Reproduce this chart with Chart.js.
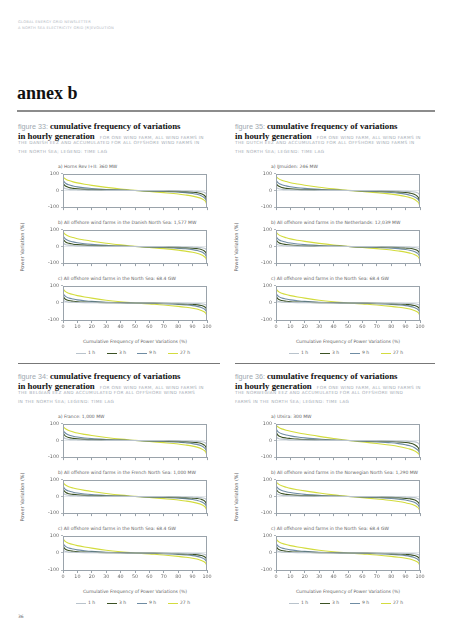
<!DOCTYPE html>
<html>
<head>
<meta charset="utf-8">
<script src="https://cdn.jsdelivr.net/npm/chart.js@4.4.1/dist/chart.umd.min.js"></script>
<style>
  html, body { margin: 0; padding: 0; background: #fff; }
  #page { position: relative; width: 453px; height: 640px; overflow: hidden; font-family: "DejaVu Sans", sans-serif; }
  .t { position: absolute; white-space: nowrap; line-height: 1; transform: translateY(-50%); }
  .hdr { font-size: 3.6px; letter-spacing: 0.25px; color: #b3b9bf; }
  .annex { font-family: "Liberation Serif", serif; font-weight: bold; font-size: 18px; color: #111; }
  .fignum { font-family: "Liberation Sans", sans-serif; font-size: 7.2px; color: #9ea7b0; }
  .bold { font-family: "Liberation Serif", serif; font-weight: bold; font-size: 8.8px; color: #111; }
  .caps { font-size: 4.3px; letter-spacing: 0.35px; color: #a7aeb6; }
  .sub { font-size: 4.5px; color: #666; }
  .ytitle { position: absolute; white-space: nowrap; font-size: 5px; color: #666; line-height: 1; transform: translate(-50%, -50%) rotate(-90deg); }
  .rule { position: absolute; }
</style>
</head>
<body>
<div id="page"></div>
<script>
// x values: cumulative frequency of power variations (%)
const cumFreq = [0, 1, 2, 4, 7, 10, 15, 20, 30, 40, 50, 60, 70, 80, 85, 90, 93, 96, 98, 99, 100];
const xTickValues = [0, 10, 20, 30, 40, 50, 60, 70, 80, 90, 100];
const yTickValues = [-100, -50, 0, 50, 100];
const lagLabels = ["1 h", "3 h", "9 h", "27 h"];
const lagColors = ["#b9c3cc", "#3b5224", "#6f8ca3", "#d3dc3e"];

// a) Horns Rev I+II: 360 MW
const hornsRev_1h  = [25, 14, 10, 7, 5, 4, 3, 2, 1, 0, 0, 0, -1, -2, -3, -4, -5, -7, -11, -16, -28];
const hornsRev_3h  = [45, 32, 25, 18, 13, 10, 7, 5, 3, 1, 0, -1, -3, -5, -7, -10, -13, -19, -28, -38, -60];
const hornsRev_9h  = [62, 50, 42, 34, 27, 22, 16, 12, 6, 2, 0, -3, -6, -10, -13, -18, -23, -31, -42, -52, -72];
const hornsRev_27h = [82, 74, 68, 60, 52, 46, 38, 31, 19, 9, 1, -6, -13, -21, -27, -34, -40, -48, -58, -66, -88];

// b) Danish North Sea: 1,577 MW
const danish_1h  = [26, 15, 11, 8, 6, 4, 3, 2, 1, 0, 0, 0, -1, -2, -3, -4, -5, -7, -10, -14, -26];
const danish_3h  = [47, 34, 26, 19, 14, 11, 8, 6, 3, 1, 0, -1, -3, -5, -7, -10, -13, -18, -26, -34, -52];
const danish_9h  = [65, 52, 44, 35, 28, 23, 17, 13, 7, 2, 0, -3, -6, -11, -14, -19, -24, -32, -42, -51, -70];
const danish_27h = [88, 78, 71, 62, 54, 47, 39, 32, 20, 10, 1, -6, -13, -22, -28, -35, -41, -50, -60, -68, -88];

// a) IJmuiden: 246 MW
const ijmuiden_1h  = [24, 14, 10, 7, 5, 4, 3, 2, 1, 0, 0, 0, -1, -2, -3, -5, -6, -9, -13, -18, -30];
const ijmuiden_3h  = [46, 32, 25, 18, 13, 10, 7, 5, 3, 1, 0, -1, -3, -6, -8, -12, -16, -23, -34, -45, -68];
const ijmuiden_9h  = [63, 51, 43, 35, 28, 23, 17, 13, 7, 2, 0, -3, -7, -12, -16, -22, -28, -37, -48, -57, -80];
const ijmuiden_27h = [84, 76, 70, 62, 54, 47, 39, 32, 20, 10, 1, -6, -13, -22, -28, -36, -43, -53, -65, -74, -95];

// b) Netherlands: 12,039 MW
const dutch_1h  = [22, 12, 9, 6, 4, 3, 2, 2, 1, 0, 0, 0, -1, -2, -2, -3, -4, -6, -9, -12, -22];
const dutch_3h  = [44, 30, 23, 16, 12, 9, 6, 4, 2, 1, 0, -1, -2, -4, -6, -9, -11, -16, -23, -30, -47];
const dutch_9h  = [62, 49, 41, 33, 26, 21, 15, 11, 6, 2, 0, -3, -6, -10, -13, -18, -23, -30, -39, -47, -65];
const dutch_27h = [86, 77, 70, 61, 53, 46, 38, 31, 19, 9, 1, -6, -13, -21, -27, -34, -40, -48, -57, -65, -84];

// a) France: 1,000 MW
const france_1h  = [26, 15, 10, 7, 5, 4, 3, 2, 1, 0, 0, 0, -1, -2, -3, -4, -5, -7, -10, -15, -27];
const france_3h  = [48, 33, 25, 18, 13, 10, 7, 5, 3, 1, 0, -1, -3, -5, -7, -10, -13, -18, -27, -36, -58];
const france_9h  = [64, 50, 42, 33, 26, 21, 15, 11, 6, 2, 0, -3, -6, -10, -14, -19, -24, -32, -43, -52, -72];
const france_27h = [86, 76, 69, 60, 52, 45, 37, 30, 18, 8, 1, -6, -13, -21, -27, -34, -40, -49, -59, -68, -88];

// b) French North Sea: 1,000 MW
const french_1h  = [25, 14, 10, 7, 5, 4, 3, 2, 1, 0, 0, 0, -1, -2, -3, -4, -5, -7, -10, -14, -26];
const french_3h  = [46, 32, 24, 17, 13, 10, 7, 5, 3, 1, 0, -1, -3, -5, -7, -10, -12, -17, -25, -34, -55];
const french_9h  = [63, 49, 41, 33, 26, 21, 15, 11, 6, 2, 0, -3, -6, -10, -13, -18, -23, -31, -41, -50, -70];
const french_27h = [85, 75, 68, 59, 51, 45, 37, 30, 18, 8, 1, -6, -13, -21, -27, -34, -40, -48, -58, -67, -86];

// a) Utsira: 300 MW
const utsira_1h  = [28, 15, 11, 8, 6, 4, 3, 2, 1, 0, 0, 0, -1, -2, -3, -4, -6, -8, -12, -18, -32];
const utsira_3h  = [52, 35, 27, 20, 15, 12, 8, 6, 3, 1, 0, -1, -3, -6, -8, -12, -16, -24, -36, -47, -70];
const utsira_9h  = [70, 57, 49, 40, 33, 28, 21, 16, 9, 3, 0, -4, -8, -14, -19, -26, -32, -42, -54, -63, -82];
const utsira_27h = [92, 84, 78, 70, 62, 56, 47, 39, 25, 12, 1, -9, -18, -29, -36, -45, -52, -62, -72, -79, -95];

// b) Norwegian North Sea: 1,290 MW
const norway_1h  = [25, 14, 10, 7, 5, 4, 3, 2, 1, 0, 0, 0, -1, -2, -3, -4, -5, -7, -11, -15, -26];
const norway_3h  = [48, 33, 25, 18, 13, 10, 7, 5, 3, 1, 0, -1, -3, -5, -7, -11, -14, -20, -29, -38, -56];
const norway_9h  = [66, 53, 45, 36, 29, 24, 18, 13, 7, 2, 0, -3, -7, -12, -16, -21, -27, -35, -46, -55, -74];
const norway_27h = [88, 80, 73, 64, 56, 49, 41, 34, 21, 10, 1, -7, -15, -24, -30, -38, -44, -53, -63, -71, -88];

// c) All offshore wind farms in the North Sea: 68.4 GW (same in every figure)
const northSea_1h  = [20, 11, 8, 5, 4, 3, 2, 2, 1, 0, 0, 0, -1, -1, -2, -3, -4, -5, -8, -11, -19];
const northSea_3h  = [40, 27, 20, 14, 10, 7, 5, 4, 2, 1, 0, -1, -2, -4, -6, -8, -10, -15, -21, -27, -38];
const northSea_9h  = [57, 44, 37, 29, 23, 18, 13, 9, 4, 1, 0, -2, -5, -9, -12, -16, -20, -27, -35, -42, -56];
const northSea_27h = [84, 72, 65, 57, 49, 43, 35, 28, 16, 7, 0, -6, -12, -20, -25, -31, -36, -44, -52, -59, -76];

const ncTitle = "c) All offshore wind farms in the North Sea: 68.4 GW";
const figures = [
  { num: 33, col: 0, block: 0,
    caps: ["FOR ONE WIND FARM,  ALL WIND FARMS IN", "THE DANISH EEZ AND ACCUMULATED FOR ALL OFFSHORE WIND FARMS IN", "THE NORTH SEA; LEGEND: TIME LAG"],
    panels: [["a) Horns Rev I+II: 360 MW", [hornsRev_1h, hornsRev_3h, hornsRev_9h, hornsRev_27h]],
             ["b) All offshore wind farms in the Danish North Sea: 1,577 MW", [danish_1h, danish_3h, danish_9h, danish_27h]],
             [ncTitle, [northSea_1h, northSea_3h, northSea_9h, northSea_27h]]] },
  { num: 35, col: 1, block: 0,
    caps: ["FOR ONE WIND FARM,  ALL WIND FARMS IN", "THE DUTCH EEZ AND ACCUMULATED FOR ALL OFFSHORE WIND FARMS IN", "THE NORTH SEA; LEGEND: TIME LAG"],
    panels: [["a) IJmuiden: 246 MW", [ijmuiden_1h, ijmuiden_3h, ijmuiden_9h, ijmuiden_27h]],
             ["b) All offshore wind farms in the Netherlands: 12,039 MW", [dutch_1h, dutch_3h, dutch_9h, dutch_27h]],
             [ncTitle, [northSea_1h, northSea_3h, northSea_9h, northSea_27h]]] },
  { num: 34, col: 0, block: 1,
    caps: ["FOR ONE WIND FARM, ALL WIND FARMS IN", "THE BELGIAN EEZ AND ACCUMULATED FOR ALL OFFSHORE WIND FARMS", "IN THE NORTH SEA; LEGEND: TIME LAG"],
    panels: [["a) France: 1,000 MW", [france_1h, france_3h, france_9h, france_27h]],
             ["b) All offshore wind farms in the French North Sea: 1,000 MW", [french_1h, french_3h, french_9h, french_27h]],
             [ncTitle, [northSea_1h, northSea_3h, northSea_9h, northSea_27h]]] },
  { num: 36, col: 1, block: 1,
    caps: ["FOR ONE WIND FARM,  ALL WIND FARMS IN", "THE NORWEGIAN EEZ AND ACCUMULATED FOR ALL OFFSHORE WIND", "FARMS IN THE NORTH SEA; LEGEND: TIME LAG"],
    panels: [["a) Utsira: 300 MW", [utsira_1h, utsira_3h, utsira_9h, utsira_27h]],
             ["b) All offshore wind farms in the Norwegian North Sea: 1,290 MW", [norway_1h, norway_3h, norway_9h, norway_27h]],
             [ncTitle, [northSea_1h, northSea_3h, northSea_9h, northSea_27h]]] }
];

// layout
const page = document.getElementById("page");
const COLS = [{ text: 18, plot: 63, ytitle: 22 }, { text: 235, plot: 276, ytitle: 236 }];
const BLOCK_DY = 250;
const PANEL_TOPS = [173, 229, 285];
const PLOT_W = 144, PLOT_H = 35, AXIS_W = 24, PAD_T = 4, PAD_R = 8;
const FRAME = "#9aa3ab";

function txt(x, y, html, cls) {
  const d = document.createElement("div");
  d.className = "t " + (cls || "");
  d.style.left = x + "px";
  d.style.top = y + "px";
  d.innerHTML = html;
  page.appendChild(d);
  return d;
}

function rule(x, y, w, h, color) {
  const d = document.createElement("div");
  d.className = "rule";
  d.style.cssText = `left:${x}px;top:${y}px;width:${w}px;height:${h}px;background:${color}`;
  page.appendChild(d);
}

// draw a box round the plot area
const framePlugin = {
  id: "frame",
  afterDatasetsDraw(chart) {
    const { ctx, chartArea: a } = chart;
    ctx.save();
    ctx.strokeStyle = FRAME;
    ctx.lineWidth = 1;
    ctx.strokeRect(Math.round(a.left) + 0.5, Math.round(a.top) + 0.5, Math.round(a.width) - 1, Math.round(a.height));
    ctx.restore();
  }
};

function makePanel(x, y, series, bottom) {
  const xH = bottom ? 13 : 4;
  const W = AXIS_W + PLOT_W + PAD_R, H = PAD_T + PLOT_H + xH;
  const cv = document.createElement("canvas");
  cv.width = W; cv.height = H;
  cv.style.cssText = `position:absolute;left:${x - AXIS_W}px;top:${y - PAD_T}px;width:${W}px;height:${H}px`;
  page.appendChild(cv);
  const tickFont = { family: "DejaVu Sans", size: 4.8 };
  new Chart(cv, {
    type: "line",
    data: {
      datasets: series.map((vals, i) => ({
        label: lagLabels[i],
        data: vals.map((v, j) => ({ x: cumFreq[j], y: v })),
        borderColor: lagColors[i],
        borderWidth: 1.1,
        pointRadius: 0,
        cubicInterpolationMode: "monotone",
        fill: false
      }))
    },
    options: {
      responsive: false,
      animation: false,
      events: [],
      layout: { padding: { top: PAD_T, right: PAD_R, left: 0, bottom: 0 } },
      plugins: { legend: { display: false }, tooltip: { enabled: false } },
      scales: {
        x: {
          type: "linear", min: 0, max: 100,
          afterBuildTicks: (s) => { s.ticks = xTickValues.map((v) => ({ value: v })); },
          afterFit: (s) => { s.height = xH; },
          grid: { drawOnChartArea: false, tickLength: 3, tickColor: FRAME },
          border: { display: false },
          ticks: { display: bottom, font: tickFont, color: "#666", padding: 1, maxRotation: 0, autoSkip: false }
        },
        y: {
          min: -100, max: 100,
          afterBuildTicks: (s) => { s.ticks = yTickValues.map((v) => ({ value: v })); },
          afterFit: (s) => { s.width = AXIS_W; },
          grid: {
            color: (c) => (c.tick && Math.abs(c.tick.value) === 100) ? "rgba(0,0,0,0)" : "#dde2e6",
            lineWidth: 0.8, tickLength: 2, tickColor: FRAME
          },
          border: { display: false },
          ticks: { font: tickFont, color: "#666", padding: 2 }
        }
      }
    },
    plugins: [framePlugin]
  });
}

// page header
txt(18, 23, "GLOBAL ENERGY GRID NEWSLETTER", "hdr");
txt(18, 28.6, "A NORTH SEA ELECTRICITY GRID [R]EVOLUTION", "hdr");
txt(17, 93, "annex b", "annex");
rule(17, 110, 418, 2, "#8c8c8c");
txt(18, 617, "36", "sub");

figures.forEach((f) => {
  const c = COLS[f.col];
  const dy = f.block * BLOCK_DY;
  txt(c.text, 124 + dy, `<span class="fignum">figure ${f.num}: </span><span class="bold">cumulative frequency of variations</span>`);
  txt(c.text, 133.5 + dy, `<span class="bold">in hourly generation</span> <span class="caps">${f.caps[0]}</span>`);
  txt(c.text, 143 + dy, f.caps[1], "caps");
  txt(c.text, 152 + dy, f.caps[2], "caps");

  f.panels.forEach((p, k) => {
    const top = PANEL_TOPS[k] + dy;
    txt(c.plot - 5, top - 6.5, p[0], "sub");
    makePanel(c.plot, top, p[1], k === 2);
  });

  // axis titles
  const yt = document.createElement("div");
  yt.className = "ytitle";
  yt.style.left = c.ytitle + "px";
  yt.style.top = (247 + dy) + "px";
  yt.textContent = "Power Variation (%)";
  page.appendChild(yt);

  const xt = txt(c.plot + PLOT_W / 2, 342 + dy, "Cumulative Frequency of Power Variations (%)", "sub");
  xt.style.transform = "translate(-50%, -50%)";

  // legend
  const offs = [13, 44, 74, 105];
  lagLabels.forEach((lab, i) => {
    rule(c.plot + offs[i], 352.5 + dy, 10, 1.2, lagColors[i]);
    txt(c.plot + offs[i] + 12, 353 + dy, lab, "sub");
  });

  if (f.block === 0) rule(c.text, 363, f.col === 0 ? 202 : 200, 1, "#777");
});
</script>
</body>
</html>
